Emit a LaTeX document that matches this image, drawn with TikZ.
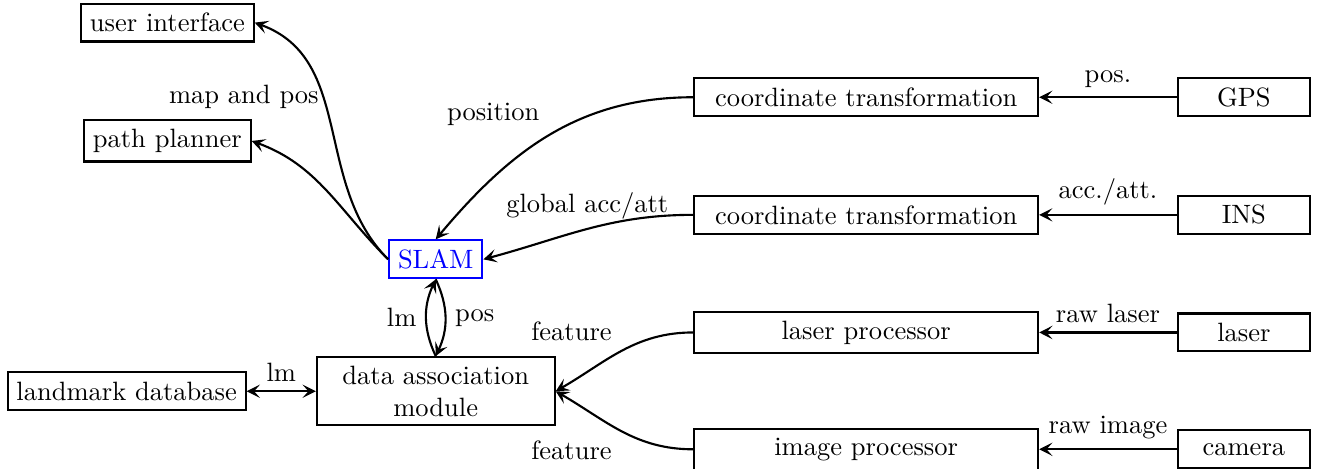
\documentclass[tikz,border=0pt]{standalone}
\usetikzlibrary{arrows.meta}
\begin{document}
\begin{tikzpicture}[thick, >={Stealth[length=5pt, width=5pt, inset=2.2pt]},
        box/.style={draw, minimum height=14.3pt},
        widebox/.style={box, minimum width=4.56cm},
        sensorbox/.style={box, minimum width=1.75cm}]

        \useasboundingbox (0,0) rectangle (17.47,-6.22);

        % sensors
        \node[sensorbox] (gps) at (16.5,-1.29) {GPS};
        \node[sensorbox] (ins) at (16.5,-2.85) {INS};
        \node[sensorbox] (laser) at (16.5,-4.41) {laser};
        \node[sensorbox] (camera) at (16.5,-5.96) {camera};

        % preprocessing
        \node[widebox] (ct1) at (11.49,-1.29) {coordinate transformation};
        \node[widebox] (ct2) at (11.49,-2.85) {coordinate transformation};
        \node[widebox] (lp) at (11.49,-4.41) {laser processor};
        \node[widebox] (ip) at (11.49,-5.96) {image processor};

        % core
        \node[box, draw=blue, text=blue] (slam) at (5.78,-3.44) {SLAM};
        \node[box, text width=2.92cm, align=center] (da) at (5.78,-5.19) {data association\\module};
        \node[box] (ldb) at (1.68,-5.19) {landmark database};
        \node[box] (ui) at (2.22,-0.30) {user interface};
        \node[box] (pp) at (2.22,-1.87) {path planner};

        \draw[->] (gps) -- node[above] {pos.} (ct1);
        \draw[->] (ins) -- node[above] {acc./att.} (ct2);
        \draw[->] (laser) -- node[above] {raw laser} (lp);
        \draw[->] (camera) -- node[above] {raw image} (ip);

        \draw[->] (ct1.west) to[out=180, in=50] node[above left] {position} (slam.north);
        \draw[->] (ct2.west) to[out=180, in=15] node[above] {global acc/att} (slam.east);

        \draw[->] (slam.west) to[out=135, in=-20] node[pos=0.53, above left] {map and pos} (ui.east);
        \draw[->] (slam.west) to[out=135, in=-20] (pp.east);

        \draw[->] (da.north) to[bend left=25] node[left] {lm} (slam.south);
        \draw[->] (slam.south) to[bend left=25] node[right] {pos} (da.north);

        \draw[<->] (ldb) -- node[above] {lm} (da);

        \draw[->] (lp.west) to[out=180, in=30] node[above left] {feature} (da.east);
        \draw[->] (ip.west) to[out=180, in=-30] node[below left] {feature} (da.east);

    \end{tikzpicture}
\end{document}
